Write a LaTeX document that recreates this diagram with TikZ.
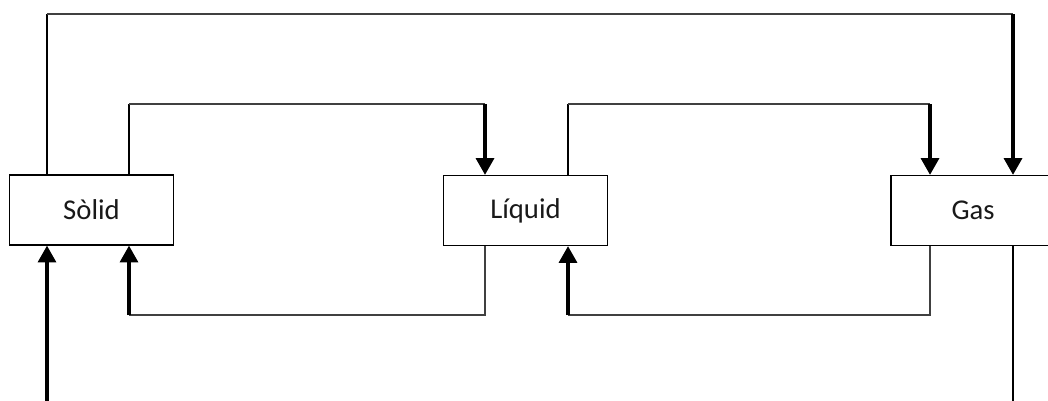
\documentclass[tikz,border=0pt]{standalone}
\usepackage{fontspec}
\setmainfont{Carlito}
\usetikzlibrary{arrows.meta}
\begin{document}
\begin{tikzpicture}[x=0.75pt,y=-0.75pt,
  box/.style={draw=black,line width=1pt,minimum width=123pt,minimum height=52.5pt,inner sep=0pt,font=\fontsize{21.5}{24}\selectfont,text=black!90},
  conn/.style={draw=black!75,line width=0.8pt},
  upline/.style={draw=black,line width=1.5pt},
  arr/.style={draw=black,line width=2.3pt,-{Triangle[width=13.5pt,length=12.5pt]}}]
\clip (0,0) rectangle (1048,400);
\fill[white] (0,0) rectangle (1048,400);
\node[box] (sol) at (91.5,210) {Sòlid};
\node[box] (liq) at (525.5,210.5) {Líquid};
\node[box] (gas) at (973,210.5) {Gas};
% reference coordinates
\coordinate (a1) at (47,14);
\coordinate (g2) at (1013,14);
\coordinate (a2) at (129,104);
\coordinate (l1) at (485,104);
\coordinate (l2) at (568,104);
\coordinate (g1) at (930,104);
\coordinate (b1) at (485,315);
\coordinate (b2) at (129,315);
\coordinate (c1) at (930,315);
\coordinate (c2) at (568,315);
\coordinate (e1) at (47,402);
\coordinate (e2) at (1013,402);
% outer top: Solid -> Gas
\draw[upline] (sol.north -| a1) -- (a1);
\draw[conn] (a1) -- (g2);
\draw[arr] (g2) -- (gas.north -| g2);
% inner top: Solid -> Liquid
\draw[upline] (sol.north -| a2) -- (a2);
\draw[conn] (a2) -- (l1);
\draw[arr] (l1) -- (liq.north -| l1);
% inner top: Liquid -> Gas
\draw[upline] (liq.north -| l2) -- (l2);
\draw[conn] (l2) -- (g1);
\draw[arr] (g1) -- (gas.north -| g1);
% bottom: Liquid -> Solid
\draw[conn] (liq.south -| b1) -- (b1) -- (b2);
\draw[arr] (b2) -- (sol.south -| b2);
% bottom: Gas -> Liquid
\draw[conn] (gas.south -| c1) -- (c1) -- (c2);
\draw[arr] (c2) -- (liq.south -| c2);
% outer bottom
\draw[upline] (gas.south -| e2) -- (e2);
\draw[arr] (e1) -- (sol.south -| e1);
\end{tikzpicture}
\end{document}
